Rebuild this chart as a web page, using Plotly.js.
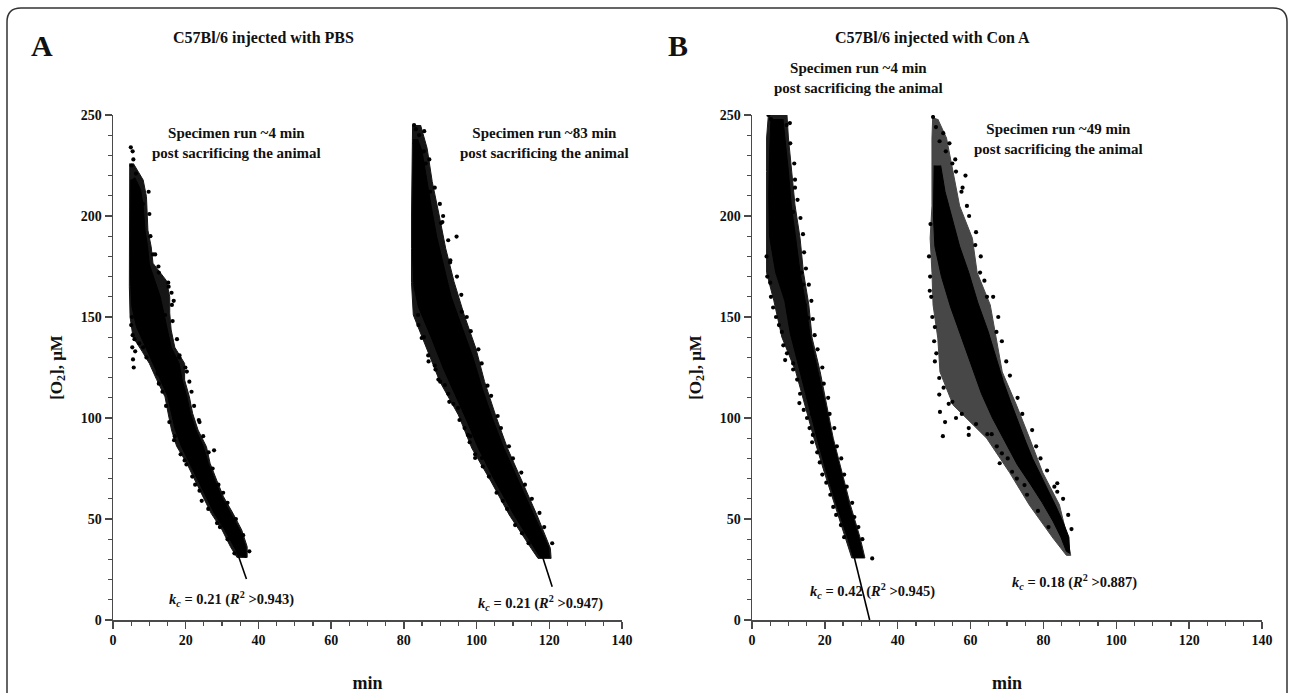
<!DOCTYPE html>
<html>
<head>
<meta charset="utf-8">
<script src="https://cdn.plot.ly/plotly-3.0.1.min.js"></script>
<style>html,body{margin:0;padding:0;background:#fff}#chart{width:1292px;height:693px}</style>
</head>
<body>
<div id="chart"></div>
<script>
// ---------- data (min, µM) ----------
// Panel A, cloud 1 (specimen run ~4 min): outer and dense envelopes of the point cloud + stray points
const a1OuterLeft = [[4.6,226],[4.5,195],[4.5,165],[4.7,150],[5.5,140],[8,133],[10,127],[12,119],[14.3,110.5],[15.2,102],[16.1,94],[17.5,86],[20.3,77.6],[22.5,69.3],[24.8,61],[27,52.8],[30,44.6],[32.3,36.3],[34.1,31]];
const a1OuterRight = [[36.9,31],[36.9,36.3],[35.4,44.6],[33,52.8],[30.4,61],[28.5,69.3],[26.7,77.6],[25.7,85.8],[23.4,94],[21.9,102.3],[21,110.5],[19.7,118.8],[19.7,127],[17,135],[16,143.6],[15.6,152],[15.6,160],[14.7,168],[11,176.6],[10.5,184.8],[9.6,193],[9.2,209.6],[8.3,217.8],[5.6,226]];
const a1CoreLeft = [[4.9,218],[4.8,195],[4.8,170],[5.2,155],[6.5,145],[9,135],[11,127],[13,119],[15,111],[16,103],[17,95],[18.8,86],[21,78],[23.2,70],[25.5,61.5],[27.8,53],[30.6,45],[33,37],[34.6,32]];
const a1CoreRight = [[36.6,31],[36.5,36],[35,44],[32.5,52.5],[30,60.5],[28,69],[26.2,77.5],[24.8,86],[22.8,94],[21.3,102],[20.3,110.5],[19,118.8],[18.2,127],[16,135],[15,143.6],[14,152],[13,160],[11.5,168],[10,176],[9.5,185],[8.8,193],[8.3,205],[7.6,213],[6,219]];
const a1PointsX = [4.9,5.4,5.6,5.1,6.3,7.4,8.2,5.2,5.0,5.4,5.9,5.3,6.1,5.5,5.7,7.2,8.3,15.2,16.1,16.7,14.3,9.5,11.0,12.6,18.2,19.9,21.0,23.6,27.8,20.2,22.6,17.0,11.5,12.3,9.2,
  9.8,10,10.3,11.6,12.5,15.3,16.2,16.4,17.6,18.3,20.3,21.6,22.3,23.8,24.8,26.3,27.4,29,30.3,31.5,33.8,35.8,37.5,
  13.6,12.6,14.6,15.5,16.8,18.6,19.7,21.8,23.8,24.4,26.2,28.6,29.4,31.5,33.4];
const a1PointsY = [234,232,228,225,221,209,206,150,146,141,139,135,133,129,125,137,135,167,162,158,151,176,181,172,130,125,118,99,84,77,67,91,128,122,130,
  212,201,190,181,175,165,156,148,139,131,123,113,106,98,91,83,75,67,63,58,50,42,34,
  113,117,106,98,89,82,79,71,64,59,55,48,46,40,33];
const a1FitX = [34, 36.7];
const a1FitY = [34.3, 20.3];

// Panel A, cloud 2 (specimen run ~83 min)
const a2OuterLeft = [[82.4,245],[82.3,233],[82.1,217],[82.1,200],[82.1,184],[82.1,167],[82.6,151],[86.3,134.5],[89.9,118],[95,101.5],[98.7,85],[104,68.5],[109,52],[115,35.5],[116.9,30.5]];
const a2OuterRight = [[120.5,30.5],[120.3,35.5],[116.6,52],[112.5,68.5],[108.5,85],[105.2,101.5],[102.2,118],[99.8,134.5],[96.6,151],[93.8,167.5],[91.5,184],[89.7,200.5],[87.8,217],[86.4,233.5],[84.6,245]];
const a2CoreLeft = [[82.6,238],[82.5,220],[82.4,200],[82.4,180],[82.8,165],[84,155],[87.5,140],[91,124],[94,112],[97,100],[100.5,85],[105,69],[110,53],[115.8,36],[117.5,31]];
const a2CoreRight = [[120,31],[119.8,36],[115.5,53],[111.5,69],[107.5,85],[104.3,100],[101.5,115],[99,130],[96,145],[93,160],[91,175],[89,190],[87.5,205],[86.2,220],[85,232],[83.8,238]];
const a2PointsX = [82.8,83.3,84.2,83.0,85.5,86.0,87.2,90.8,90.2,94.5,92.7,95.9,83.9,84.9,86.7,91.3,94.9,97.6,99.6,101.5,98.3,88.5,90.0,92.5,84.0,
  85.6,87,88.5,89.9,90.6,92.2,92.8,94.6,95.8,97.3,98.4,100.5,101.4,103,104,105.8,106.7,108.9,110,112.3,113.3,115.2,117.3,118.6,120.8,
  85.5,86.8,88.7,89.5,92.2,93.6,95.3,96.7,98.1,99.6,101.7,103.4,105.5,107.2,108.4,110.6,112.5,114.3];
const a2PointsY = [245,243,240,236,232,226,212,200,196.5,189.8,177,152.6,151,139.6,131,116.3,105,91.6,80.2,80.2,91,126,118,108,146,
  242,228,214,206,197,188,178,170,161,150,143,134,127,116,111,101,95,86,80,73,67,60,53,46,38,
  140,128,124,119,112,107,99,95,88,82,76,71,63,59,55,47,43,38];
const a2FitX = [117.3, 120.8];
const a2FitY = [36, 16.5];

// Panel B, cloud 1 (specimen run ~4 min)
const b1OuterLeft = [[4.5,250],[4.0,238.6],[4.0,222],[4.0,205],[4.0,189],[4.0,172],[6,158],[8.2,140],[12,123],[14.6,106],[17,90],[19.8,73.4],[22.7,57],[25.8,40.6],[27.4,30.7]];
const b1OuterRight = [[31,30.7],[29.7,40.6],[27,57],[24.7,73.4],[22.3,90],[20.5,106.4],[18.7,123],[16.5,139.6],[15.6,156],[14.1,172.4],[13.2,189],[11.8,205.4],[10.9,222],[10,238.6],[9.6,250]];
const b1CoreLeft = [[5.2,248],[4.8,230],[4.6,210],[4.8,190],[6.5,172],[9,158],[10.5,142],[13,125],[15.3,108],[17.7,91],[20.3,74],[23.2,57],[26.2,41],[27.8,31]];
const b1CoreRight = [[30.6,31],[29.3,41],[26.6,57],[24.3,74],[22,90],[20.2,106],[18.2,123],[16,140],[14.8,156],[13.2,172],[12,189],[10.8,205],[10,222],[9.2,238],[8.5,248]];
const b1PointsX = [4.5,5.2,9.5,11.3,11.8,13.6,14.0,14.5,15.4,4.0,4.2,5.0,5.8,8.2,9.1,11.3,13.0,16.4,16.7,26.0,33.0,
  10.4,10.5,11.6,11.8,12.5,13.3,14,14.3,14.8,15.6,16.3,16.7,17.2,18,19.3,19.7,20.9,21.3,22.6,23.3,24.5,25.3,26,27.5,28.1,29.2,30.3,
  5.2,6.6,7.4,8.6,9.6,11.3,12.4,13.2,14.2,15.1,15.8,16.5,17.9,18.6,19.3,20.4,21.5,22.3,23.1,24.4,25.3];
const b1PointsY = [250,248,245,202,214,172,166,156,149.5,180,170,167,154.7,142.6,128.7,127,107.4,102,91.6,53.6,30.5,
  246,236,226,218,208,199,191,182,174,166,158,149,141,134,125,117,110,102,95,86,80,72,66,58,51,46,40,
  160,150,146,136,132,124,119,112,104,100,95,88,83,78,72,68,62,56,52,47,41];
const b1FitX = [27.4, 32.3];
const b1FitY = [36, 0];

// Panel B, cloud 2 (specimen run ~49 min)
const b2OuterLeft = [[49.6,249],[49.4,238.6],[49.4,205],[48.9,189],[49.4,172],[49.7,156],[51,139.6],[51.6,122.8],[55.2,106.4],[64.4,90],[70.7,73],[76.1,57],[82.6,40.6],[86.3,32]];
const b2OuterRight = [[87.5,32],[86.6,40.6],[84.4,57],[79.8,73],[76.2,90],[72.6,106.4],[68.7,122.8],[67,139.6],[65.4,156],[61.8,172],[60.5,189],[57,205],[53.4,238.6],[51,248]];
const b2CoreLeft = [[50,225],[49.8,200],[50.2,185],[52,170],[54.5,155],[57.5,140],[60.5,125],[63,112],[66,100],[69.5,88],[72.8,77],[76.5,67],[79.7,58],[82.6,49],[84.8,41],[86.3,34]];
const b2CoreRight = [[87.2,33],[87,41],[85.5,48],[83.5,56],[81.3,64],[79,72],[77,80],[75.2,88],[73,98],[71,108],[69,118],[67,130],[64.8,143],[62,157],[59.5,172],[57,185],[54.8,200],[53,212],[51.8,225]];
const b2PointsX = [49.7,50.5,52.5,51.5,53.2,55,56,58.6,57.5,59,61.3,62.6,64.5,67.1,48.9,49.2,49.5,50.0,50.2,51.4,51.4,51.6,52.4,59.5,59.5,64.6,65.8,68.6,68,71.4,74.8,83.8,83.8,53,56,55,
  54.2,55.8,57.8,59.6,61.5,62.8,63.8,66.2,67.6,68.6,69.8,70.8,72.9,74.2,76.9,78,79.2,81,83,85.4,86.8,87.7,49.0,48.6,48.8,50.2,50.6,52.6,54,57.6,61.5,67.2,70.2,72.7,75.5,78.5,81.4];
const b2PointsY = [249,244,241,237,232,226,222,220,212,205,185.6,172,160,142.6,170,160,150,138,128,119.8,111.6,103,91,95,91.6,92,92,82.5,77.6,73.4,66.8,67.7,63.5,98,100,108,
  236,228,214,200,192,180,168,160,150,138,128,121,110,102,94,86,80,74,66,60,52,45,196,180,163,145,132,115,107,102,97,86,80,70,62,54,46];

// labels
const panelLetters = ['A', 'B'];
const panelTitles = ['C57Bl/6 injected with PBS', 'C57Bl/6 injected with Con A'];
const specimenLabels = ['Specimen run ~4 min<br>post sacrificing the animal', 'Specimen run ~83 min<br>post sacrificing the animal', 'Specimen run ~4 min<br>post sacrificing the animal', 'Specimen run ~49 min<br>post sacrificing the animal'];
const kcValues = ['0.21', '0.21', '0.42', '0.18'];
const r2Values = ['0.943', '0.947', '0.945', '0.887'];
const xTickVals = [0, 20, 40, 60, 80, 100, 120, 140];
const yTickVals = [0, 50, 100, 150, 200, 250];

// ---------- figure ----------
const W = 1292, H = 693;
const SERIF = 'Liberation Serif, Times New Roman, serif';
const px = v => v / W, py = v => 1 - v / H;

function poly(left, right) {
  const pts = left.concat(right);
  return { x: pts.map(p => p[0]), y: pts.map(p => p[1]) };
}
function areaTrace(left, right, xa, ya, color) {
  const p = poly(left, right);
  return { type: 'scatter', mode: 'lines', x: p.x, y: p.y, xaxis: xa, yaxis: ya,
    fill: 'toself', fillcolor: color, line: { width: 1, color: color },
    hoverinfo: 'skip', showlegend: false };
}
function ptsTrace(x, y, xa, ya) {
  return { type: 'scatter', mode: 'markers', x: x, y: y, xaxis: xa, yaxis: ya,
    marker: { size: 4.2, color: '#000' }, hoverinfo: 'skip', showlegend: false };
}
function fitTrace(x, y, xa, ya) {
  return { type: 'scatter', mode: 'lines', x: x, y: y, xaxis: xa, yaxis: ya,
    line: { width: 1.6, color: '#000' }, hoverinfo: 'skip', showlegend: false };
}
const OUTER = '#161616', CORE = '#000', SPARSE = '#474747';

const data = [
  areaTrace(a1OuterLeft, a1OuterRight, 'x', 'y', OUTER),
  areaTrace(a1CoreLeft, a1CoreRight, 'x', 'y', CORE),
  ptsTrace(a1PointsX, a1PointsY, 'x', 'y'),
  fitTrace(a1FitX, a1FitY, 'x', 'y'),
  areaTrace(a2OuterLeft, a2OuterRight, 'x', 'y', OUTER),
  areaTrace(a2CoreLeft, a2CoreRight, 'x', 'y', CORE),
  ptsTrace(a2PointsX, a2PointsY, 'x', 'y'),
  fitTrace(a2FitX, a2FitY, 'x', 'y'),
  areaTrace(b1OuterLeft, b1OuterRight, 'x2', 'y2', '#1c1c1c'),
  areaTrace(b1CoreLeft, b1CoreRight, 'x2', 'y2', CORE),
  ptsTrace(b1PointsX, b1PointsY, 'x2', 'y2'),
  fitTrace(b1FitX, b1FitY, 'x2', 'y2'),
  areaTrace(b2OuterLeft, b2OuterRight, 'x2', 'y2', SPARSE),
  areaTrace(b2CoreLeft, b2CoreRight, 'x2', 'y2', CORE),
  ptsTrace(b2PointsX, b2PointsY, 'x2', 'y2')
];

const axisColor = '#4a4a4a';
function xAxis(domain, anchor) {
  return { domain: domain, anchor: anchor, range: [0, 140], tickvals: xTickVals, ticks: 'outside',
    ticklen: 7, tickwidth: 1.5, tickcolor: axisColor, showline: true, linecolor: axisColor, linewidth: 1.5,
    showgrid: false, zeroline: false, fixedrange: true,
    minor: { dtick: 5, ticks: 'outside', ticklen: 4, tickwidth: 1.2, tickcolor: axisColor, showgrid: false },
    tickfont: { family: SERIF, size: 14, weight: 'bold', color: '#111' },
    title: { text: 'min', standoff: 29, font: { family: SERIF, size: 18, weight: 'bold', color: '#111' } } };
}
function yAxis(domain, anchor) {
  return { domain: domain, anchor: anchor, range: [0, 250], tickvals: yTickVals, ticks: 'outside',
    ticklen: 7, tickwidth: 1.5, tickcolor: axisColor, showline: true, linecolor: axisColor, linewidth: 1.5,
    showgrid: false, zeroline: false, fixedrange: true,
    minor: { dtick: 10, ticks: 'outside', ticklen: 4, tickwidth: 1.2, tickcolor: axisColor, showgrid: false },
    tickfont: { family: SERIF, size: 14, weight: 'bold', color: '#111' },
    title: { text: '[O<sub>2</sub>], μM', standoff: 14, font: { family: SERIF, size: 17, weight: 'bold', color: '#111' } } };
}
const yDom = [py(620), py(115)];

function txt(text, x, y, xref, yref, size, extra) {
  return Object.assign({ text: text, x: x, y: y, xref: xref, yref: yref, showarrow: false,
    xanchor: 'center', yanchor: 'middle', font: { family: SERIF, size: size, weight: 'bold', color: '#111' } }, extra || {});
}
function kc(i) {
  return '<i>k</i><sub><i>c</i></sub> = ' + kcValues[i] + ' (<i>R</i><sup>2</sup> >' + r2Values[i] + ')';
}

const annotations = [
  txt(panelLetters[0], px(42), py(45), 'paper', 'paper', 30),
  txt(panelLetters[1], px(678), py(45), 'paper', 'paper', 30),
  txt(panelTitles[0], px(263), py(38), 'paper', 'paper', 16),
  txt(panelTitles[1], px(932), py(38), 'paper', 'paper', 16),
  txt(specimenLabels[0], 34.0, 236, 'x', 'y', 15),
  txt(specimenLabels[1], 118.8, 236, 'x', 'y', 15),
  txt(specimenLabels[2], px(858), py(78), 'paper', 'paper', 15),
  txt(specimenLabels[3], 84.0, 238, 'x2', 'y2', 15),
  txt(kc(0), 32.5, 10.6, 'x', 'y', 14.5),
  txt(kc(1), 117.5, 8.4, 'x', 'y', 14.5),
  txt(kc(2), 33.0, 14.6, 'x2', 'y2', 14.5),
  txt(kc(3), 88.5, 18.6, 'x2', 'y2', 14.5)
];

// rounded outer frame
const fx = v => (v / W).toFixed(5), fy = v => (1 - v / H).toFixed(5);
const framePath = 'M ' + fx(7) + ',' + fy(693) + ' L ' + fx(7) + ',' + fy(22) +
  ' Q ' + fx(7) + ',' + fy(8) + ' ' + fx(21) + ',' + fy(8) +
  ' L ' + fx(1273) + ',' + fy(8) + ' Q ' + fx(1287) + ',' + fy(8) + ' ' + fx(1287) + ',' + fy(22) +
  ' L ' + fx(1287) + ',' + fy(693);

const layout = {
  width: W, height: H, margin: { l: 0, r: 0, t: 0, b: 0 },
  paper_bgcolor: '#fff', plot_bgcolor: 'rgba(0,0,0,0)', showlegend: false,
  xaxis: xAxis([px(113), px(622)], 'y'),
  yaxis: yAxis(yDom, 'x'),
  xaxis2: xAxis([px(752), px(1262)], 'y2'),
  yaxis2: yAxis(yDom, 'x2'),
  annotations: annotations,
  shapes: [{ type: 'path', xref: 'paper', yref: 'paper', path: framePath, line: { color: '#333', width: 1.5 } }]
};

Plotly.newPlot('chart', data, layout, { displayModeBar: false, staticPlot: true });
</script>
</body>
</html>
